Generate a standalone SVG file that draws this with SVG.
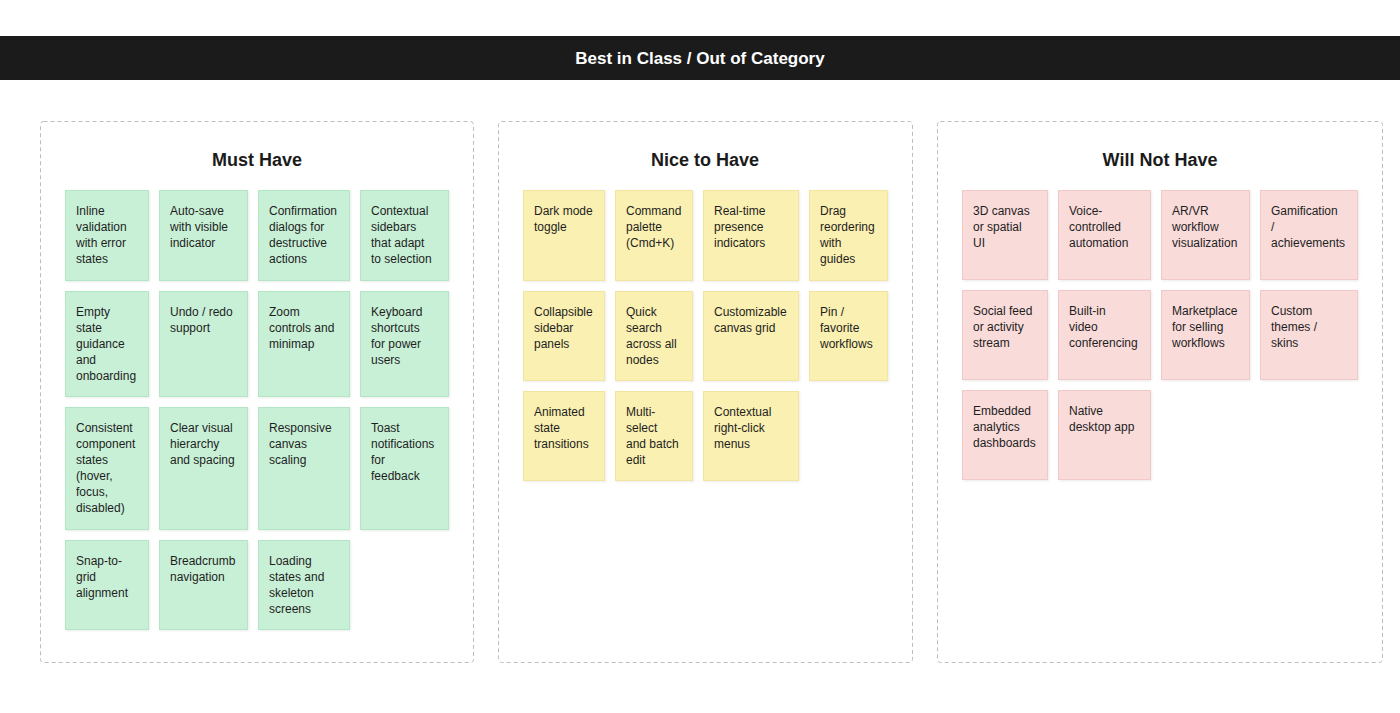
<svg xmlns="http://www.w3.org/2000/svg" width="1400" height="713" viewBox="0 0 1400 713">
<defs>
<filter id="sh" x="-10%" y="-10%" width="130%" height="130%">
<feDropShadow dx="1" dy="1" stdDeviation="1" flood-color="#000" flood-opacity="0.08"/>
</filter>
</defs>
<style>
.hdr{fill:#1b1b1b}
.htxt{font-family:"Liberation Sans",Arial,sans-serif;font-size:17px;font-weight:bold;fill:#ffffff}
.col{fill:#ffffff;stroke:#bdbdbd;stroke-width:1;stroke-dasharray:4 3}
.ctitle{font-family:"Liberation Sans",Arial,sans-serif;font-size:18px;font-weight:bold;fill:#1b1b1b}
.card{stroke-width:1;filter:url(#sh)}
.g{fill:#c8f0d7;stroke:#b3e6c5}
.y{fill:#faf0b1;stroke:#f2e59f}
.p{fill:#f9dbda;stroke:#f1c9c8}
.t{font-family:"Liberation Sans",Arial,sans-serif;font-size:12px;fill:#1e1e1e}
</style>
<rect x="0" y="0" width="1400" height="713" fill="#ffffff"/>
<g id="header">
<rect class="hdr" x="0" y="36" width="1400" height="44"/>
<text class="htxt" x="700" y="64" text-anchor="middle">Best in Class / Out of Category</text>
</g>
<g id="connectors"></g>

<g id="must-have">
<rect class="col" x="40.5" y="121.5" width="433" height="541" rx="3"/>
<text class="ctitle" x="257" y="166" text-anchor="middle">Must Have</text>
</g>
<g id="nice-to-have">
<rect class="col" x="498.5" y="121.5" width="414" height="541" rx="3"/>
<text class="ctitle" x="705" y="166" text-anchor="middle">Nice to Have</text>
</g>
<g id="will-not-have">
<rect class="col" x="937.5" y="121.5" width="445" height="541" rx="3"/>
<text class="ctitle" x="1160" y="166" text-anchor="middle">Will Not Have</text>
</g>

<!-- Must Have cards -->
<g id="m1"><rect class="card g" x="65.5" y="190.5" width="83" height="90"/><text class="t" x="76" y="215"><tspan x="76">Inline</tspan><tspan x="76" dy="16">validation</tspan><tspan x="76" dy="16">with error</tspan><tspan x="76" dy="16">states</tspan></text></g>
<g id="m2"><rect class="card g" x="159.5" y="190.5" width="88" height="90"/><text class="t" x="170" y="215"><tspan x="170">Auto-save</tspan><tspan x="170" dy="16">with visible</tspan><tspan x="170" dy="16">indicator</tspan></text></g>
<g id="m3"><rect class="card g" x="258.5" y="190.5" width="91" height="90"/><text class="t" x="269" y="215"><tspan x="269">Confirmation</tspan><tspan x="269" dy="16">dialogs for</tspan><tspan x="269" dy="16">destructive</tspan><tspan x="269" dy="16">actions</tspan></text></g>
<g id="m4"><rect class="card g" x="360.5" y="190.5" width="88" height="90"/><text class="t" x="371" y="215"><tspan x="371">Contextual</tspan><tspan x="371" dy="16">sidebars</tspan><tspan x="371" dy="16">that adapt</tspan><tspan x="371" dy="16">to selection</tspan></text></g>

<g id="m5"><rect class="card g" x="65.5" y="291.5" width="83" height="105"/><text class="t" x="76" y="316"><tspan x="76">Empty</tspan><tspan x="76" dy="16">state</tspan><tspan x="76" dy="16">guidance</tspan><tspan x="76" dy="16">and</tspan><tspan x="76" dy="16">onboarding</tspan></text></g>
<g id="m6"><rect class="card g" x="159.5" y="291.5" width="88" height="105"/><text class="t" x="170" y="316"><tspan x="170">Undo / redo</tspan><tspan x="170" dy="16">support</tspan></text></g>
<g id="m7"><rect class="card g" x="258.5" y="291.5" width="91" height="105"/><text class="t" x="269" y="316"><tspan x="269">Zoom</tspan><tspan x="269" dy="16">controls and</tspan><tspan x="269" dy="16">minimap</tspan></text></g>
<g id="m8"><rect class="card g" x="360.5" y="291.5" width="88" height="105"/><text class="t" x="371" y="316"><tspan x="371">Keyboard</tspan><tspan x="371" dy="16">shortcuts</tspan><tspan x="371" dy="16">for power</tspan><tspan x="371" dy="16">users</tspan></text></g>

<g id="m9"><rect class="card g" x="65.5" y="407.5" width="83" height="122"/><text class="t" x="76" y="432"><tspan x="76">Consistent</tspan><tspan x="76" dy="16">component</tspan><tspan x="76" dy="16">states</tspan><tspan x="76" dy="16">(hover,</tspan><tspan x="76" dy="16">focus,</tspan><tspan x="76" dy="16">disabled)</tspan></text></g>
<g id="m10"><rect class="card g" x="159.5" y="407.5" width="88" height="122"/><text class="t" x="170" y="432"><tspan x="170">Clear visual</tspan><tspan x="170" dy="16">hierarchy</tspan><tspan x="170" dy="16">and spacing</tspan></text></g>
<g id="m11"><rect class="card g" x="258.5" y="407.5" width="91" height="122"/><text class="t" x="269" y="432"><tspan x="269">Responsive</tspan><tspan x="269" dy="16">canvas</tspan><tspan x="269" dy="16">scaling</tspan></text></g>
<g id="m12"><rect class="card g" x="360.5" y="407.5" width="88" height="122"/><text class="t" x="371" y="432"><tspan x="371">Toast</tspan><tspan x="371" dy="16">notifications</tspan><tspan x="371" dy="16">for</tspan><tspan x="371" dy="16">feedback</tspan></text></g>

<g id="m13"><rect class="card g" x="65.5" y="540.5" width="83" height="89"/><text class="t" x="76" y="565"><tspan x="76">Snap-to-</tspan><tspan x="76" dy="16">grid</tspan><tspan x="76" dy="16">alignment</tspan></text></g>
<g id="m14"><rect class="card g" x="159.5" y="540.5" width="88" height="89"/><text class="t" x="170" y="565"><tspan x="170">Breadcrumb</tspan><tspan x="170" dy="16">navigation</tspan></text></g>
<g id="m15"><rect class="card g" x="258.5" y="540.5" width="91" height="89"/><text class="t" x="269" y="565"><tspan x="269">Loading</tspan><tspan x="269" dy="16">states and</tspan><tspan x="269" dy="16">skeleton</tspan><tspan x="269" dy="16">screens</tspan></text></g>

<!-- Nice to Have cards -->
<g id="n1"><rect class="card y" x="523.5" y="190.5" width="81" height="90"/><text class="t" x="534" y="215"><tspan x="534">Dark mode</tspan><tspan x="534" dy="16">toggle</tspan></text></g>
<g id="n2"><rect class="card y" x="615.5" y="190.5" width="77" height="90"/><text class="t" x="626" y="215"><tspan x="626">Command</tspan><tspan x="626" dy="16">palette</tspan><tspan x="626" dy="16">(Cmd+K)</tspan></text></g>
<g id="n3"><rect class="card y" x="703.5" y="190.5" width="95" height="90"/><text class="t" x="714" y="215"><tspan x="714">Real-time</tspan><tspan x="714" dy="16">presence</tspan><tspan x="714" dy="16">indicators</tspan></text></g>
<g id="n4"><rect class="card y" x="809.5" y="190.5" width="78" height="90"/><text class="t" x="820" y="215"><tspan x="820">Drag</tspan><tspan x="820" dy="16">reordering</tspan><tspan x="820" dy="16">with</tspan><tspan x="820" dy="16">guides</tspan></text></g>

<g id="n5"><rect class="card y" x="523.5" y="291.5" width="81" height="89"/><text class="t" x="534" y="316"><tspan x="534">Collapsible</tspan><tspan x="534" dy="16">sidebar</tspan><tspan x="534" dy="16">panels</tspan></text></g>
<g id="n6"><rect class="card y" x="615.5" y="291.5" width="77" height="89"/><text class="t" x="626" y="316"><tspan x="626">Quick</tspan><tspan x="626" dy="16">search</tspan><tspan x="626" dy="16">across all</tspan><tspan x="626" dy="16">nodes</tspan></text></g>
<g id="n7"><rect class="card y" x="703.5" y="291.5" width="95" height="89"/><text class="t" x="714" y="316"><tspan x="714">Customizable</tspan><tspan x="714" dy="16">canvas grid</tspan></text></g>
<g id="n8"><rect class="card y" x="809.5" y="291.5" width="78" height="89"/><text class="t" x="820" y="316"><tspan x="820">Pin /</tspan><tspan x="820" dy="16">favorite</tspan><tspan x="820" dy="16">workflows</tspan></text></g>

<g id="n9"><rect class="card y" x="523.5" y="391.5" width="81" height="89"/><text class="t" x="534" y="416"><tspan x="534">Animated</tspan><tspan x="534" dy="16">state</tspan><tspan x="534" dy="16">transitions</tspan></text></g>
<g id="n10"><rect class="card y" x="615.5" y="391.5" width="77" height="89"/><text class="t" x="626" y="416"><tspan x="626">Multi-</tspan><tspan x="626" dy="16">select</tspan><tspan x="626" dy="16">and batch</tspan><tspan x="626" dy="16">edit</tspan></text></g>
<g id="n11"><rect class="card y" x="703.5" y="391.5" width="95" height="89"/><text class="t" x="714" y="416"><tspan x="714">Contextual</tspan><tspan x="714" dy="16">right-click</tspan><tspan x="714" dy="16">menus</tspan></text></g>

<!-- Will Not Have cards -->
<g id="w1"><rect class="card p" x="962.5" y="190.5" width="85" height="89"/><text class="t" x="973" y="215"><tspan x="973">3D canvas</tspan><tspan x="973" dy="16">or spatial</tspan><tspan x="973" dy="16">UI</tspan></text></g>
<g id="w2"><rect class="card p" x="1058.5" y="190.5" width="92" height="89"/><text class="t" x="1069" y="215"><tspan x="1069">Voice-</tspan><tspan x="1069" dy="16">controlled</tspan><tspan x="1069" dy="16">automation</tspan></text></g>
<g id="w3"><rect class="card p" x="1161.5" y="190.5" width="88" height="89"/><text class="t" x="1172" y="215"><tspan x="1172">AR/VR</tspan><tspan x="1172" dy="16">workflow</tspan><tspan x="1172" dy="16">visualization</tspan></text></g>
<g id="w4"><rect class="card p" x="1260.5" y="190.5" width="97" height="89"/><text class="t" x="1271" y="215"><tspan x="1271">Gamification</tspan><tspan x="1271" dy="16">/</tspan><tspan x="1271" dy="16">achievements</tspan></text></g>

<g id="w5"><rect class="card p" x="962.5" y="290.5" width="85" height="89"/><text class="t" x="973" y="315"><tspan x="973">Social feed</tspan><tspan x="973" dy="16">or activity</tspan><tspan x="973" dy="16">stream</tspan></text></g>
<g id="w6"><rect class="card p" x="1058.5" y="290.5" width="92" height="89"/><text class="t" x="1069" y="315"><tspan x="1069">Built-in</tspan><tspan x="1069" dy="16">video</tspan><tspan x="1069" dy="16">conferencing</tspan></text></g>
<g id="w7"><rect class="card p" x="1161.5" y="290.5" width="88" height="89"/><text class="t" x="1172" y="315"><tspan x="1172">Marketplace</tspan><tspan x="1172" dy="16">for selling</tspan><tspan x="1172" dy="16">workflows</tspan></text></g>
<g id="w8"><rect class="card p" x="1260.5" y="290.5" width="97" height="89"/><text class="t" x="1271" y="315"><tspan x="1271">Custom</tspan><tspan x="1271" dy="16">themes /</tspan><tspan x="1271" dy="16">skins</tspan></text></g>

<g id="w9"><rect class="card p" x="962.5" y="390.5" width="85" height="89"/><text class="t" x="973" y="415"><tspan x="973">Embedded</tspan><tspan x="973" dy="16">analytics</tspan><tspan x="973" dy="16">dashboards</tspan></text></g>
<g id="w10"><rect class="card p" x="1058.5" y="390.5" width="92" height="89"/><text class="t" x="1069" y="415"><tspan x="1069">Native</tspan><tspan x="1069" dy="16">desktop app</tspan></text></g>
</svg>
